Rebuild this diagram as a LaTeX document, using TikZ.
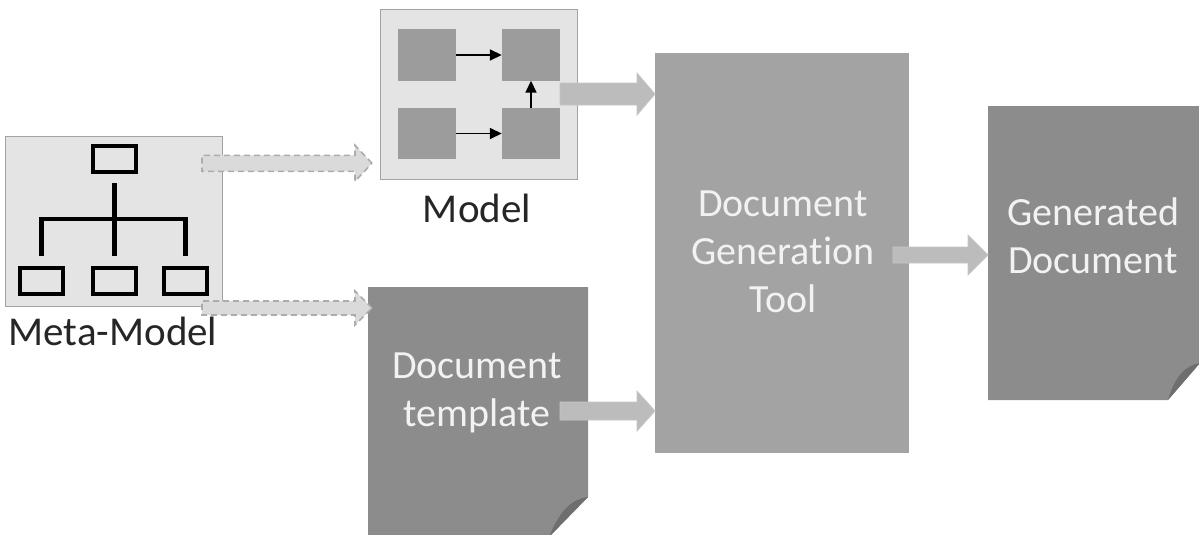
\documentclass[tikz,border=0pt]{standalone}
\usepackage{fontspec}
\setmainfont{Carlito}[Ligatures=NoCommon]
\usetikzlibrary{calc,arrows.meta}

\definecolor{panelfill}{HTML}{E4E4E4}
\definecolor{panelline}{HTML}{A2A2A2}
\definecolor{tilefill}{HTML}{9C9C9C}
\definecolor{toolfill}{HTML}{A3A3A3}
\definecolor{docfill}{HTML}{8C8C8C}
\definecolor{foldfill}{HTML}{6E6E6E}
\definecolor{flowfill}{HTML}{BCBCBC}
\definecolor{flowline}{HTML}{C6C6C6}
\definecolor{dashfill}{HTML}{DADADA}
\definecolor{dashline}{HTML}{ACACAC}
\definecolor{lighttext}{HTML}{F2F2F2}

% block arrow: [style]{tip}{total length}{head length}{shaft half width}{head half width}
\newcommand\blockarrow[6][]{%
  \path[#1] #2 -- ++(-#4,-#6) -- ++(0,{#6-#5}) -- ++({-(#3-#4)},0)
    -- ++(0,{2*#5}) -- ++({#3-#4},0) -- ++(0,{#6-#5}) -- cycle;}

\tikzset{
  panelbox/.style={draw=panelline, line width=1.3pt, fill=panelfill, inner sep=0pt, anchor=north west},
  iconbox/.style={draw=black, line width=4.2pt, fill=panelfill, inner sep=0pt,
    minimum width=43pt, minimum height=26pt},
  icon/.style={line width=4.2pt},
  tile/.style={fill=tilefill, inner sep=0pt, minimum width=58pt, minimum height=51pt},
  tilearrow/.style={line width=1.7pt, -{Triangle[length=12pt,width=11pt]}},
  flow/.style={fill=flowfill, draw=flowline, line width=0.8pt},
  dashflow/.style={fill=dashfill, draw=dashline, line width=1.6pt, dash pattern=on 6pt off 4pt},
  caption/.style={text=black!85, font=\fontsize{41}{48}\selectfont},
  inlabel/.style={text=lighttext, font=\fontsize{40}{48}\selectfont, align=center},
  docpage/.style={fill=docfill},
  fold/.style={fill=foldfill},
}

\begin{document}
\begin{tikzpicture}[x=1pt,y=-1pt]
\useasboundingbox (0,0) rectangle (1199,535);

% ---------- meta-model panel with hierarchy icon ----------
\node[panelbox, minimum width=217pt, minimum height=170pt] (meta) at (5,136) {};
\node[iconbox] (m0) at (114.5,159) {};
\node[iconbox] (m1) at (41.5,281) {};
\node[iconbox] (m2) at (114.5,281) {};
\node[iconbox] (m3) at (185.5,281) {};
\coordinate (hub) at (114.5,219);
\draw[icon] ($(m0.south)+(0,9)$) -- ($(m2.north)+(0,-10)$);
\draw[icon] ($(m1.north)+(0,-10)$) -- (m1.north |- hub) -- (m3.north |- hub) -- ($(m3.north)+(0,-10)$);
\node[caption] (metalabel) at (113,331) {Meta-Model};

% ---------- model panel ----------
\node[panelbox, minimum width=197pt, minimum height=170pt] (model) at (380,9) {};
\node[tile] (tl) at (426.5,55) {};
\node[tile] (tr) at (531,55) {};
\node[tile] (bl) at (426.5,133.5) {};
\node[tile] (br) at (531,133.5) {};
\draw[tilearrow] (tl) -- (tr);
\draw[tilearrow] (bl) -- (br);
\draw[tilearrow] (br) -- (tr);
\node[caption] (modellabel) at (477,208) {Model};

% ---------- generation tool ----------
\node[fill=toolfill, inner sep=0pt, minimum width=254pt, minimum height=400pt, anchor=north west] (tool) at (655,53) {};
\node[inlabel] (toollabel) at (783,252) {Document\\Generation\\Tool};

% ---------- document template page ----------
\coordinate (tmplnw) at (368,287);
\fill[docpage] (tmplnw) -- (588,287) -- (588,497) -- (549,537) -- (368,537) -- cycle;
\fill[fold] (588,497) .. controls (572,499) and (560,510) .. (549,537) -- cycle;
\node[inlabel] (tmpl) at (477,393) {Document\\template};

% ---------- generated document page ----------
\coordinate (gennw) at (988,106);
\fill[docpage] (gennw) -- (1200,106) -- (1200,363) -- (1168,400) -- (988,400) -- cycle;
\fill[fold] (1200,363) .. controls (1186,365) and (1175,376) .. (1168,400) -- cycle;
\node[inlabel] (gen) at (1093,236) {Generated\\Document};

% ---------- flow arrows ----------
\blockarrow[dashflow]{($(model.south west)+(-8,-17)$)}{170}{17}{8}{18}
\blockarrow[dashflow]{($(tmplnw)+(4,21)$)}{170}{17}{7}{17}
\blockarrow[flow]{($(tool.north west)+(0,41)$)}{95}{18}{11}{21}
\blockarrow[flow]{($(tool.north west)+(0,358)$)}{95}{18}{9}{20}
\blockarrow[flow]{($(gennw)+(0,149)$)}{95}{20}{8}{20}
\end{tikzpicture}
\end{document}
